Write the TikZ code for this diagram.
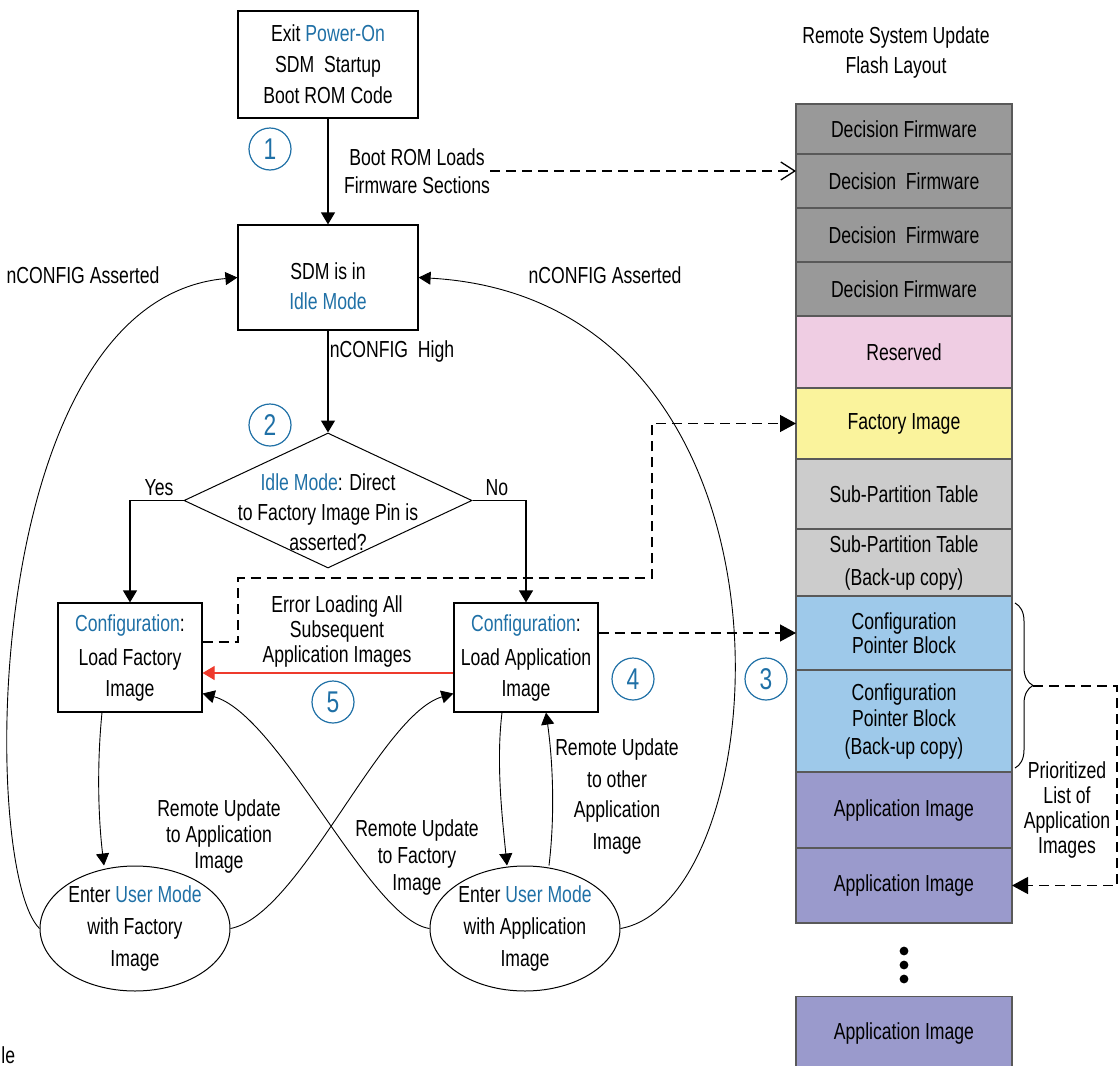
\documentclass[tikz,border=0pt]{standalone}
\usepackage{fontspec}
\setmainfont[FakeStretch=0.76]{Liberation Sans}
\usetikzlibrary{arrows.meta,positioning,shapes.geometric,decorations.pathreplacing}
\definecolor{iblue}{HTML}{1F70A6}
\definecolor{ired}{HTML}{EE3A2C}
\definecolor{dfgray}{HTML}{999999}
\definecolor{rsvpink}{HTML}{EFCDE3}
\definecolor{facyel}{HTML}{FAF39C}
\definecolor{sptgray}{HTML}{CCCCCC}
\definecolor{cpbblue}{HTML}{9EC9EA}
\definecolor{apppurp}{HTML}{9A9ACC}
\tikzset{
  box/.style={draw, line width=0.6pt, inner sep=1pt, align=center},
  uell/.style={draw, ellipse, line width=0.5pt, inner sep=0pt, minimum width=95pt, minimum height=62.5pt, align=center},
  num/.style={circle, draw=iblue, text=iblue, line width=0.6pt, minimum size=21pt, inner sep=0pt, font=\fontsize{15}{15}\selectfont},
  blk/.style={draw=black!65, line width=0.6pt, minimum width=108pt, inner sep=0pt, outer sep=0pt, align=center},
  flow/.style={line width=0.6pt, -{Triangle[length=6pt,width=7pt]}},
  cflow/.style={line width=0.45pt, -{Triangle[length=6pt,width=6.5pt]}},
  dline/.style={line width=0.65pt, dash pattern=on 5pt off 3pt, -{Triangle[length=8pt,width=8.5pt]}},
  lbl/.style={align=center, inner sep=0pt},
}
\begin{document}
\begin{tikzpicture}[x=0.5pt, y=-0.5pt, font=\fontsize{11.6}{14}\selectfont]
\useasboundingbox (0,0) rectangle (1120,1066);

% flow chart
\node[box, minimum width=90pt, minimum height=53.5pt] (exit) at (328,64.5) {Exit \textcolor{iblue}{Power-On}\\[1.5pt] SDM\ \ Startup\\[1.5pt] Boot ROM Code};
\node[box, minimum width=90pt, minimum height=52.5pt] (idle) at (328,277.5) {\rule{0pt}{17pt}SDM is in\\[1pt] \textcolor{iblue}{Idle Mode}};
\node[diamond, draw, line width=0.5pt, minimum width=144pt, minimum height=67.5pt, inner sep=0pt] (dec) at (328,500.5) {};
\node[lbl] (dectxt) at (328,512) {\textcolor{iblue}{Idle Mode}: Direct\\[1pt] to Factory Image Pin is\\[1pt] asserted?};
\node[box, minimum width=72pt, minimum height=54.5pt] (fac) at (130,657.5) {\textcolor{iblue}{Configuration}:\\[3pt] Load Factory\\[1.5pt] Image};
\node[box, minimum width=72pt, minimum height=54.5pt] (appc) at (526,657.5) {\textcolor{iblue}{Configuration}:\\[3pt] Load Application\\[1.5pt] Image};
\node[uell] (lell) at (135,928.5) {Enter \textcolor{iblue}{User Mode}\\[2pt] with Factory\\[2pt] Image};
\node[uell] (rell) at (525,928.5) {Enter \textcolor{iblue}{User Mode}\\[2pt] with Application\\[2pt] Image};

% step numbers
\node[num] (n1) at (270,149) {1};
\node[num] (n2) at (270,425) {2};
\node[num] (n3) at (766,679) {3};
\node[num] (n4) at (633,679) {4};
\node[num] (n5) at (333,702) {5};

% labels
\node[lbl] (bootlbl) at (417,171) {Boot ROM Loads\\ Firmware Sections};
\node[lbl] (ncl) at (83,275) {nCONFIG Asserted};
\node[lbl] (ncr) at (605,275) {nCONFIG Asserted};
\node[lbl] (nch) at (392,351) {nCONFIG\ \ High};
\node[lbl] (yes) at (159,488) {Yes};
\node[lbl] (no) at (497,488) {No};
\node[lbl] (errlbl) at (337,631) {Error Loading All\\[-1.5pt] Subsequent\\[-1.5pt] Application Images};
\node[lbl] (rufa) at (219,836) {Remote Update\\[-1pt] to Application\\[-1pt] Image};
\node[lbl] (rufb) at (417,857) {Remote Update\\[-0.5pt] to Factory\\[-0.5pt] Image};
\node[lbl] (ruo) at (617,796) {Remote Update\\[2pt] to other\\[1pt] Application\\[2pt] Image};
\node[lbl, anchor=west] (pgle) at (1,1055) {le};

% flash layout
\node[lbl] (title) at (896,52) {Remote System Update\\[1pt] Flash Layout};
\node[blk, fill=dfgray, minimum height=25pt] (df1) at (904,129) {Decision Firmware};
\node[blk, fill=dfgray, minimum height=27pt, below=0pt of df1] (df2) {Decision\ \ Firmware};
\node[blk, fill=dfgray, minimum height=27pt, below=0pt of df2] (df3) {Decision\ \ Firmware};
\node[blk, fill=dfgray, minimum height=27pt, below=0pt of df3] (df4) {Decision Firmware};
\node[blk, fill=rsvpink, minimum height=36pt, below=0pt of df4] (rsv) {Reserved};
\node[blk, fill=facyel, minimum height=35.5pt, below=0pt of rsv] (fimg) {Factory Image};
\node[blk, fill=sptgray, minimum height=35pt, below=0pt of fimg] (spt) {Sub-Partition Table};
\node[blk, fill=sptgray, minimum height=33.5pt, below=0pt of spt] (sptb) {Sub-Partition Table\\[2.5pt] (Back-up copy)};
\node[blk, fill=cpbblue, minimum height=37pt, below=0pt of sptb] (cpb) {Configuration\\[-2pt] Pointer Block};
\node[blk, fill=cpbblue, minimum height=51pt, below=0pt of cpb] (cpbb) {Configuration\\[-1pt] Pointer Block\\ (Back-up copy)};
\node[blk, fill=apppurp, minimum height=38pt, below=0pt of cpbb] (app1) {Application Image};
\node[blk, fill=apppurp, minimum height=37.5pt, below=0pt of app1] (app2) {Application Image};
\node[blk, fill=apppurp, minimum height=37pt] (app3) at (904,1033.5) {Application Image};
\foreach \y in {951,965,979} \fill (904,\y) circle (2.2pt);
\draw[decorate, decoration={brace, amplitude=9pt}, line width=0.5pt] (1015,603) -- (1015,768);
\coordinate (btip) at (1033,686);
\node[lbl] (prio) at (1067,810) {Prioritized\\[-1.5pt] List of\\[-1.5pt] Application\\[-1.5pt] Images};

% connectors
\draw[flow] (exit) -- (idle);
\draw[flow] (idle) -- (dec);
\draw[flow] (dec.west) -| (fac.north);
\draw[flow] (dec.east) -| (appc.north);
\draw[flow, ired] ([yshift=-7.75pt]appc.west) -- ([yshift=-7.75pt]fac.east);
\draw[cflow] ([xshift=-14pt]fac.south) .. controls +(-5,50) and +(-6,-50) .. ([xshift=-15.5pt]lell.north);
\draw[cflow] ([xshift=-12pt]appc.south) .. controls +(-6,50) and +(-5,-50) .. ([xshift=-9pt]rell.north);
\draw[cflow] ([xshift=12pt]rell.north) .. controls +(6,-50) and +(7,50) .. ([xshift=10pt]appc.south);
\draw[cflow] (lell.east) .. controls (300,915) and (380,715) .. ([yshift=-18pt]appc.west);
\draw[cflow] (rell.west) .. controls (370,920) and (280,715) .. ([yshift=-18pt]fac.east);
\draw[cflow] (lell.west) .. controls (-20,870) and (-20,300) .. (idle.west);
\draw[cflow] (rell.east) .. controls (780,900) and (820,300) .. (idle.east);
\draw[dline, -{Straight Barb[length=7pt,width=9pt]}] (bootlbl.east) -- (bootlbl.east -| df2.west);
\draw[dline] ([yshift=7.75pt]fac.east) -- ++(35.5,0) |- (652,578) |- (fimg.west);
\draw[dline] (appc.east |- cpb.west) -- (cpb.west);
\draw[dline] (btip) -- (1117,686) |- (app2.east);
\end{tikzpicture}
\end{document}
